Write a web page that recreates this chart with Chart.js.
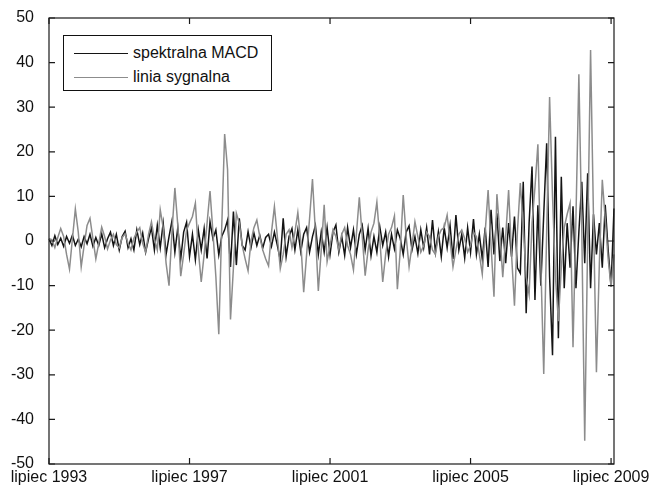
<!DOCTYPE html>
<html>
<head>
<meta charset="utf-8">
<script src="https://cdn.jsdelivr.net/npm/chart.js@4.4.1/dist/chart.umd.min.js"></script>
<style>
	body { margin: 0; background: #fff; }
	#wrap { position: relative; width: 650px; height: 488px; }
	#legenda {
		position: absolute; left: 63px; top: 35px; width: 207px; height: 54px;
		border: 1px solid #111; background: #fff;
		font-family: "Liberation Sans", Arial, sans-serif; font-size: 16px; color: #111;
	}
	#legenda .row { position: absolute; left: 10px; height: 20px; line-height: 20px; }
	#legenda .line { position: absolute; left: 0; top: 10px; width: 54px; height: 0; }
	#legenda .txt { position: absolute; left: 59px; top: 0; white-space: nowrap; }
</style>
</head>
<body>
<div id="wrap">
	<canvas id="myChart" width="650" height="488"></canvas>
	<div id="legenda"></div>
</div>
<script>
// miesiace od lipca 1993 do sierpnia 2009
var startRok = 1993, startMies = 7, liczbaMies = 194;

var tickMiesiace = [ "1993-07", "1997-07", "2001-07", "2005-07", "2009-07" ];
var tickEtykiety = [ "lipiec 1993", "lipiec 1997", "lipiec 2001", "lipiec 2005", "lipiec 2009" ];
var yTicks = [ -50, -40, -30, -20, -10, 0, 10, 20, 30, 40, 50 ];

var nazwy = [ "spektralna MACD", "linia sygnalna" ];
var kolory = [ "#141414", "#8c8c8c" ];

var macd = [
	0.5, -1.0, 1.2, -0.8, 0.6, -1.2, 1.0, -0.5, 1.3, -1.0,
	0.4, -1.3, 1.0, -0.6, 1.5, -1.2, 0.8, -1.0, 1.6, -1.5,
	0.5, 2.0, -1.0, 1.5, -2.0, 1.0, 2.2, -1.5, 0.5, -2.0,
	2.5, -0.8, 1.8, -2.5, 0.5, 3.0, -2.0, 3.5, -1.5, 4.0,
	-3.0, 1.0, 4.5, -2.5, 3.0, -4.0, 2.0, 4.2, -3.5, 1.5,
	-4.2, 2.5, -2.0, 2.8, -3.9, 4.3, 0.5, 2.5, -3.1, 1.0,
	2.5, 4.7, -5.8, 6.6, -5.4, 5.1, -1.0, -2.0, 2.1, -1.5,
	1.8, -1.0, 1.3, -1.6, 0.8, 1.5, -1.2, 2.0, -1.0, -4.3,
	5.1, -3.5, 1.0, 2.8, -2.0, 2.5, -2.4, 1.5, 3.0, -2.5,
	1.0, 3.5, -3.0, 2.0, -2.5, 3.0, -3.0, 2.0, 3.6, -2.5,
	1.0, -3.2, 3.0, -1.5, 2.5, -3.0, 1.5, 3.5, -2.0, 2.8,
	-3.3, 1.0, -2.5, 3.2, -1.0, 2.0, -3.5, 1.5, -1.8, 2.5,
	0.5, -3.0, 2.0, 3.4, -2.0, 1.0, -2.8, 2.5, -1.5, 3.0,
	-3.0, 4.7, -2.5, 2.0, -3.5, 3.0, -1.5, 3.5, -4.0, 5.8,
	-2.0, 1.5, -3.8, 3.0, -2.5, 4.9, -3.0, 1.5, -4.0, 3.0,
	-5.8, 7.0, -3.0, 6.2, -4.5, 3.0, -5.0, 4.0, -3.5, 5.5,
	-6.0, -7.2, 13.3, -16.2, 4.0, 16.7, -13.2, 8.0, -10.0, 6.0,
	21.9, -8.0, -25.6, 23.4, -21.8, 14.4, -10.6, 4.0, -6.0, 7.8,
	-10.6, 2.0, 13.3, -5.0, 15.2, -10.6, 6.0, -3.0, 4.0, -6.0,
	8.1, -2.0, -10.2, 7.3
];

var sygnal = [
	0.5, 0.3, -1.5, 0.8, 2.8, 1.0, -3.0, -6.3, 0.5, 7.2,
	2.0, -5.8, -1.0, 3.5, 5.1, 0.5, -4.0, -0.5, 3.1, 1.0,
	-1.8, 0.2, 1.5, -0.8, -1.5, 0.8, 1.6, -0.5, -2.0, 0.6,
	2.0, 3.0, -0.5, -2.5, 1.5, 4.3, 0.5, -2.0, 7.0, 3.0,
	-5.0, -10.0, 2.0, 11.9, 3.5, -7.9, -3.0, 2.5, 4.0, 5.5,
	8.5, -2.0, -9.2, -3.0, 4.0, 11.2, 2.0, -8.0, -20.9, 3.0,
	24.0, 16.0, -17.6, -6.0, 6.2, 4.0, -1.0, -4.0, -6.7, 0.0,
	3.0, 4.7, 1.0, -2.0, -4.0, -5.6, 2.0, 7.7, 1.0, -6.2,
	-3.0, 1.5, 2.5, -1.5, 2.0, 6.4, 0.0, -11.5, -3.0, 5.0,
	13.9, 2.0, -11.2, -2.0, 8.1, -4.6, -1.0, 2.5, 1.0, -2.0,
	1.5, 3.0, -1.0, -3.0, -6.5, 1.5, 9.8, 1.0, -7.8, -2.0,
	2.0, 4.0, 8.7, 0.5, -9.2, -3.0, 1.5, 3.0, 5.6, -10.8,
	-2.0, 10.3, 1.0, -5.8, -1.0, 4.3, 1.0, -2.5, -1.0, 2.0,
	1.0, -2.0, -3.0, 1.0, 2.5, 3.0, 5.8, 0.0, -5.8, -2.0,
	1.5, 2.5, 0.5, -2.5, -1.0, 2.0, 1.0, -3.0, -7.4, 2.0,
	11.4, -1.0, -12.5, 10.5, 2.0, -8.1, 1.0, 11.4, -3.0, -14.5,
	2.0, 13.0, 3.0, -8.0, -12.0, 4.0, 12.0, 21.7, -5.0, -29.8,
	2.0, 32.3, 10.0, -8.0, -18.0, -6.0, 3.0, 6.0, 8.5, -23.8,
	5.0, 37.4, 2.0, -44.8, 0.0, 42.8, 5.0, -29.4, -5.0, 13.7,
	5.0, -4.0, -10.3, -3.0
];

var miesiace = [];
for (var i = 0; i < liczbaMies; i++) {
	var m = startMies - 1 + i;
	var r = startRok + Math.floor(m / 12);
	var mm = (m % 12) + 1;
	miesiace.push(r + "-" + (mm < 10 ? "0" + mm : mm));
}

var czcionka = { family: "'Liberation Sans', Arial, sans-serif", size: 16 };

// bez dodatkowego marginesu od etykiet, obszar wykresu ustala layout.padding
function bezPaddingu(s) {
	s.paddingTop = 0; s.paddingBottom = 0;
	s.paddingLeft = 0; s.paddingRight = 0;
}

// ramka i krotkie kreski do srodka jak w matlabie
var ramka = {
	id: "ramka",
	afterDatasetsDraw: function(chart) {
		var ctx = chart.ctx, a = chart.chartArea;
		var sx = chart.scales.x, sy = chart.scales.y;
		var dl = 6;
		ctx.save();
		ctx.strokeStyle = "#1a1a1a";
		ctx.lineWidth = 1.2;
		ctx.strokeRect(a.left, a.top, a.right - a.left, a.bottom - a.top);
		ctx.beginPath();
		for (var i = 0; i < tickMiesiace.length; i++) {
			var px = sx.getPixelForValue(miesiace.indexOf(tickMiesiace[i]));
			ctx.moveTo(px, a.bottom); ctx.lineTo(px, a.bottom - dl);
			ctx.moveTo(px, a.top); ctx.lineTo(px, a.top + dl);
		}
		for (var j = 0; j < yTicks.length; j++) {
			var py = sy.getPixelForValue(yTicks[j]);
			ctx.moveTo(a.left, py); ctx.lineTo(a.left + dl, py);
			ctx.moveTo(a.right, py); ctx.lineTo(a.right - dl, py);
		}
		ctx.stroke();
		ctx.restore();
	}
};

var ctx = document.getElementById("myChart").getContext("2d");
var chart = new Chart(ctx, {
	type : "line",
	data : {
		labels : miesiace,
		datasets : [ {
			label : nazwy[0],
			borderColor : kolory[0],
			backgroundColor : kolory[0],
			borderWidth : 1.5,
			data : macd,
			order : 1
		}, {
			label : nazwy[1],
			borderColor : kolory[1],
			backgroundColor : kolory[1],
			borderWidth : 1.5,
			data : sygnal,
			order : 0
		} ]
	},
	options : {
		responsive : false,
		animation : false,
		layout : { padding : { left : 0, top : 18, right : 36, bottom : 0 } },
		elements : {
			point : { radius : 0 },
			line : { tension : 0, fill : false }
		},
		plugins : {
			legend : { display : false },
			tooltip : { enabled : false }
		},
		scales : {
			x : {
				border : { display : false },
				grid : { display : false, drawTicks : false },
				afterFit : function(s) { s.height = 24; bezPaddingu(s); },
				ticks : {
					autoSkip : false,
					maxRotation : 0,
					padding : 4,
					color : "#111",
					font : czcionka,
					callback : function(v, idx) {
						var k = tickMiesiace.indexOf(miesiace[idx]);
						return k >= 0 ? tickEtykiety[k] : null;
					}
				}
			},
			y : {
				min : -50,
				max : 50,
				border : { display : false },
				grid : { display : false, drawTicks : false },
				afterFit : function(s) { s.width = 49; bezPaddingu(s); },
				afterBuildTicks : function(s) {
					s.ticks = yTicks.map(function(v) { return { value : v }; });
				},
				ticks : {
					padding : 15,
					color : "#111",
					font : czcionka
				}
			}
		}
	},
	plugins : [ ramka ]
});

// legenda w ramce
var leg = document.getElementById("legenda");
for (var k = 0; k < chart.data.datasets.length; k++) {
	var ds = chart.data.datasets[k];
	var row = document.createElement("div");
	row.className = "row";
	row.style.top = (7 + k * 24) + "px";
	row.innerHTML = '<div class="line" style="border-top:1.3px solid ' + ds.borderColor + '"></div><div class="txt">' + ds.label + '</div>';
	leg.appendChild(row);
}
</script>
</body>
</html>
